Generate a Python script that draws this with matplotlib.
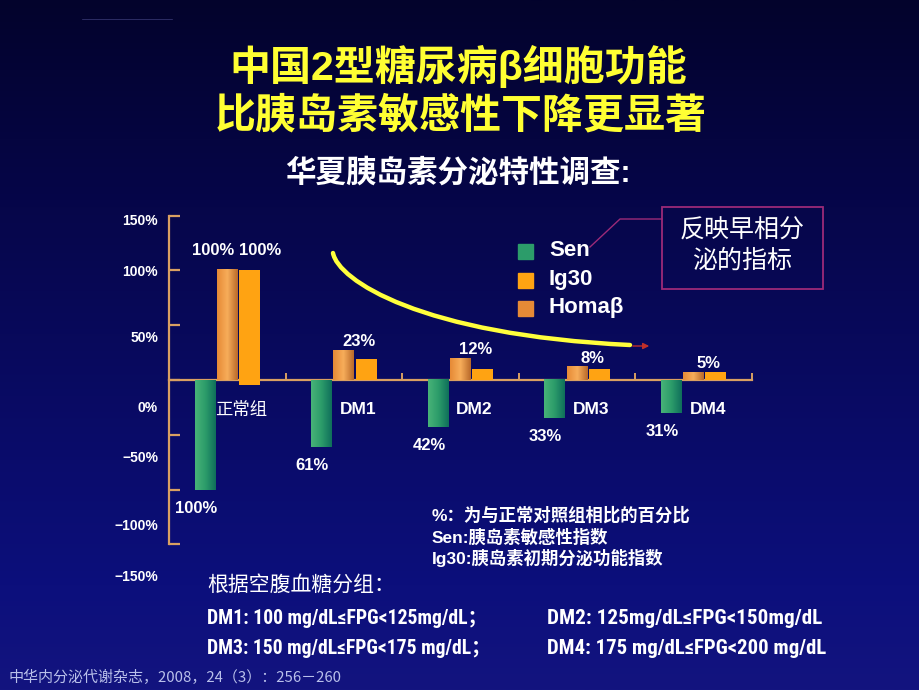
import numpy as np
import matplotlib
matplotlib.use('Agg')
import matplotlib.pyplot as plt
from matplotlib import font_manager
from matplotlib.colors import LinearSegmentedColormap
from matplotlib.patches import Rectangle, PathPatch, FancyArrowPatch
from matplotlib.path import Path
from matplotlib.lines import Line2D

plt.rcParams['font.family'] = ['Liberation Sans', 'Noto Sans CJK SC', 'DejaVu Sans']

# data (percent of normal group)
categories = ['正常组', 'DM1', 'DM2', 'DM3', 'DM4']
sen = [-100, -61, -43, -35, -30]
homa = [101, 27, 20, 12, 7]
ig30 = [100, 19, 10, 10, 7]
ig30_base = [-5, 0, 0, 0, 0]
sen_labels = ['100%', '61%', '42%', '33%', '31%']
top_labels = ['23%', '12%', '8%', '5%']
ytick_vals = [150, 100, 50, 0, -50, -100, -150]
ytick_text = ['150%', '100%', '50%', '0%', '−50%', '−100%', '−150%']

W, H = 920, 690
AXIS = '#d9a062'
GREEN = ['#48b378', '#2c9c6a', '#0f6f5b']
ORANGE = ['#e68a36', '#f7ad5a', '#b9692a']
IG_COLOR = '#ffa312'


def fx(x):
    return x / W


def fy(y):
    return 1 - y / H


fig = plt.figure(figsize=(9.2, 6.9), dpi=100)

# slide background
bg = fig.add_axes([0, 0, 1, 1], zorder=-10)
bg.axis('off')
bg_cmap = LinearSegmentedColormap.from_list(
    'bg', [(0, '#03032c'), (0.3, '#06064a'), (0.85, '#0c0f7c'), (1, '#13147f')])
bg.imshow(np.linspace(0, 1, 256).reshape(-1, 1), aspect='auto', cmap=bg_cmap,
          extent=[0, 1, 0, 1])
bg.set_xlim(0, 1)
bg.set_ylim(0, 1)

ax = fig.add_axes([fx(169), fy(544.3), 583 / W, 328.6 / H])
ax.set_facecolor('none')

x = np.arange(len(categories))
bw = 0.18
off = 0.19

sen_bars = ax.bar(x - off, sen, bw, color=GREEN[1], zorder=2)
homa_bars = ax.bar(x, homa, bw, color=ORANGE[0], zorder=2)
ig_bars = ax.bar(x + off, np.array(ig30) - np.array(ig30_base), bw,
                 bottom=ig30_base, color=IG_COLOR, zorder=2)


def shade(bars, colors):
    cm = LinearSegmentedColormap.from_list('g', colors)
    g = np.linspace(0, 1, 64).reshape(1, -1)
    for r in bars:
        x0, y0 = r.get_x(), r.get_y()
        x1, y1 = x0 + r.get_width(), y0 + r.get_height()
        ax.imshow(g, cmap=cm, aspect='auto', extent=[x0, x1, min(y0, y1), max(y0, y1)],
                  zorder=2.1, interpolation='bilinear')


shade(sen_bars, GREEN)
shade(homa_bars, ORANGE)

ax.set_xlim(-0.5, 4.5)
ax.set_ylim(-150, 150)

for s in ['top', 'right']:
    ax.spines[s].set_visible(False)
ax.spines['bottom'].set_position(('data', 0))
for s in ['left', 'bottom']:
    ax.spines[s].set_color(AXIS)
    ax.spines[s].set_linewidth(1.6)
    ax.spines[s].set_zorder(1.5)

ax.set_yticks(ytick_vals)
ax.set_yticklabels([])
ax.tick_params(axis='y', direction='in', length=8, width=1.6, color=AXIS)
ax.set_xticks(np.arange(0.5, 5, 1))
ax.set_xticklabels([])
ax.tick_params(axis='x', direction='in', length=5, width=1.4, color=AXIS)

# y labels sit where the slide drew them
ylab_pos = [220.7, 271.7, 337.7, 407.7, 457.7, 525.7, 576.7]
for t, yp in zip(ytick_text, ylab_pos):
    fig.text(fx(158), fy(yp), t, color='white', fontsize=10, fontweight='bold',
             ha='right', va='center')

# category labels
for i, c in enumerate(categories):
    ax.text(i + 0.12, -27, c, color='white', fontsize=12.5,
            fontweight='normal' if i == 0 else 'bold', ha='center', va='center')

# value labels
for i, t in enumerate(sen_labels):
    ax.text(i - off - 0.08, sen[i] - 17, t, color='white', fontsize=12,
            fontweight='bold', ha='center', va='center')
ax.text(-0.12, 118, '100%', color='white', fontsize=12, fontweight='bold',
        ha='center', va='center')
ax.text(0.28, 118, '100%', color='white', fontsize=12, fontweight='bold',
        ha='center', va='center')
for i, t in enumerate(top_labels, start=1):
    ax.text(i + 0.13, homa[i] + 8, t, color='white', fontsize=12,
            fontweight='bold', ha='center', va='center')

# titles
fig.text(fx(458), fy(66), '中国2型糖尿病β细胞功能', color='#ffff33', fontsize=29.5,
         fontweight='bold', ha='center', va='center')
fig.text(fx(461), fy(116), '比胰岛素敏感性下降更显著', color='#ffff33', fontsize=29.5,
         fontweight='bold', ha='center', va='center')
fig.text(fx(458), fy(174), '华夏胰岛素分泌特性调查:', color='white', fontsize=22,
         fontweight='bold', ha='center', va='center')

# legend
leg = [('Sen', GREEN[1], 251), ('Ig30', IG_COLOR, 280), ('Homaβ', ORANGE[0], 308)]
for name, col, yp in leg:
    fig.add_artist(Rectangle((fx(518), fy(yp + 7.5)), 15 / W, 15 / H,
                             transform=fig.transFigure, color=col))
    fig.text(fx(549), fy(yp), name, color='white', fontsize=16, fontweight='bold',
             ha='left', va='center')

# callout box
fig.add_artist(Rectangle((fx(662), fy(289.3)), 160.7 / W, 82.6 / H,
                         transform=fig.transFigure, fill=False,
                         edgecolor='#9c2a78', lw=1.3))
fig.add_artist(Line2D([fx(662), fx(620), fx(590)], [fy(219), fy(219), fy(247)],
                      transform=fig.transFigure, color='#9c2a78', lw=1.0))
fig.text(fx(742), fy(231), '反映早相分', color='white', fontsize=18,
         ha='center', va='center')
fig.text(fx(742), fy(261), '泌的指标', color='white', fontsize=18,
         ha='center', va='center')

# trend curve with arrow
pts = [(333, 253), (338, 280), (420, 335), (630, 345)]
curve = Path([(fx(a), fy(b)) for a, b in pts],
             [Path.MOVETO, Path.CURVE4, Path.CURVE4, Path.CURVE4])
fig.add_artist(PathPatch(curve, transform=fig.transFigure, facecolor='none',
                         edgecolor='#ffff3c', lw=3.2, capstyle='round'))
fig.add_artist(FancyArrowPatch((fx(630), fy(346)), (fx(652), fy(346)),
                               transform=fig.transFigure, arrowstyle='-|>',
                               mutation_scale=9, color='#c0302a', lw=1.0))

# notes
notes = ['%：为与正常对照组相比的百分比', 'Sen:胰岛素敏感性指数', 'Ig30:胰岛素初期分泌功能指数']
for t, yp in zip(notes, [515, 537, 558]):
    fig.text(fx(432), fy(yp), t, color='white', fontsize=12.5, fontweight='bold',
             ha='left', va='center')

fig.text(fx(207), fy(585), '根据空腹血糖分组：', color='white', fontsize=15,
         ha='left', va='center')

# the group definitions use a narrow face on the slide
names = {f.name for f in font_manager.fontManager.ttflist}
narrow = 'Liberation Sans'
for cand in ['Liberation Sans Narrow', 'Arial Narrow', 'Roboto Condensed',
             'DejaVu Sans Condensed', 'Open Sans Condensed']:
    if cand in names:
        narrow = cand
        break
groups = [('DM1: 100 mg/dL≤FPG<125mg/dL；', 207, 618, 282),
          ('DM2: 125mg/dL≤FPG<150mg/dL', 547, 618, 276),
          ('DM3: 150 mg/dL≤FPG<175 mg/dL；', 207, 648, 285),
          ('DM4: 175 mg/dL≤FPG<200 mg/dL', 547, 648, 281)]
fig.canvas.draw()
rend = fig.canvas.get_renderer()
for t, xp, yp, wd in groups:
    txt = fig.text(fx(xp), fy(yp), t, color='white', fontsize=15, fontweight='bold',
                   family=[narrow, 'Noto Sans CJK SC', 'DejaVu Sans'],
                   ha='left', va='center')
    w = txt.get_window_extent(rend).width
    txt.set_fontsize(min(16, 15 * wd / w))

fig.text(fx(8), fy(677), '中华内分泌代谢杂志，2008，24（3）：256－260', color='#b9c0ea',
         fontsize=10.8, family=['Noto Sans CJK SC', 'DejaVu Sans'],
         ha='left', va='center')

# faint header line of the slide
fig.add_artist(Line2D([fx(82), fx(172)], [fy(19), fy(19)], transform=fig.transFigure,
                      color='#3c3c7a', lw=0.5))

fig.savefig('out.png', dpi=100)
